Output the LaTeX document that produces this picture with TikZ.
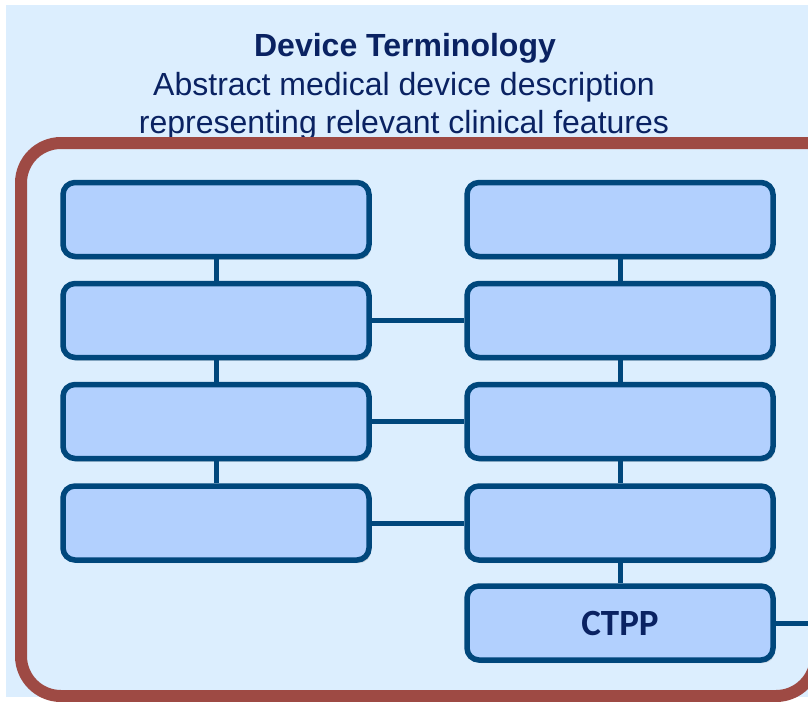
\documentclass[tikz,border=0pt]{standalone}
\usepackage{fontspec}
\setmainfont{Liberation Sans}
\newfontfamily\labelfont{Carlito}
\usetikzlibrary{shadows}
\definecolor{pagebg}{HTML}{DCEEFE}
\definecolor{framered}{HTML}{9E4A44}
\definecolor{boxline}{HTML}{00477C}
\definecolor{boxfill}{HTML}{B2D0FE}
\definecolor{navytext}{HTML}{0A2262}
\tikzset{
  termbox/.style={draw=boxline, line width=5.5pt, fill=boxfill, rounded corners=12pt,
    minimum width=306pt, minimum height=74pt, inner sep=0pt,
    drop shadow={shadow xshift=2pt, shadow yshift=-3pt, opacity=0.25, fill=black!60}},
  link/.style={draw=boxline, line width=5pt},
  boxlabel/.style={font=\labelfont\bfseries\fontsize{37}{40}\selectfont, text=navytext},
}
\begin{document}
\begin{tikzpicture}[x=1pt, y=-1pt]
  \useasboundingbox (0,0) rectangle (808,701);
  \begin{scope}
    \clip (0,0) rectangle (808,701);
    % page background
    \fill[pagebg] (6,5) rectangle (808,697);
    % heading
    \node[text=navytext, font=\bfseries\fontsize{32}{37}\selectfont] (title) at (405,48) {Device Terminology};
    \node[text=navytext, font=\fontsize{32}{37.5}\selectfont, align=center] (subtitle) at (404,106)
      {Abstract medical device description\\ representing relevant clinical features};
    % terminology frame, running on past the right edge
    \draw[framered, line width=12pt, rounded corners=40pt]
      (880,143) -- (21,143) -- (21,696) -- (816,696) -- (816,400);
    % left column
    \node[termbox] (l1) at (216,219.5) {};
    \node[termbox] (l2) at (216,320.5) {};
    \node[termbox] (l3) at (216,421.5) {};
    \node[termbox] (l4) at (216,523) {};
    % right column
    \node[termbox] (r1) at (620,219.5) {};
    \node[termbox] (r2) at (620,320.5) {};
    \node[termbox] (r3) at (620,421.5) {};
    \node[termbox] (r4) at (620,523) {};
    \node[termbox, boxlabel] (ctpp) at (620,623) {\raisebox{-6pt}{CTPP}};
    \coordinate (exit) at (812,623);
    % connectors
    \path[link] (l1.south) -- (l2.north);
    \path[link] (l2.south) -- (l3.north);
    \path[link] (l3.south) -- (l4.north);
    \path[link] (r1.south) -- (r2.north);
    \path[link] (r2.south) -- (r3.north);
    \path[link] (r3.south) -- (r4.north);
    \path[link] (r4.south) -- (ctpp.north);
    \path[link] (l2.east) -- (r2.west);
    \path[link] (l3.east) -- (r3.west);
    \path[link] (l4.east) -- (r4.west);
    \path[link] (ctpp.east) -- (exit);
  \end{scope}
\end{tikzpicture}
\end{document}
